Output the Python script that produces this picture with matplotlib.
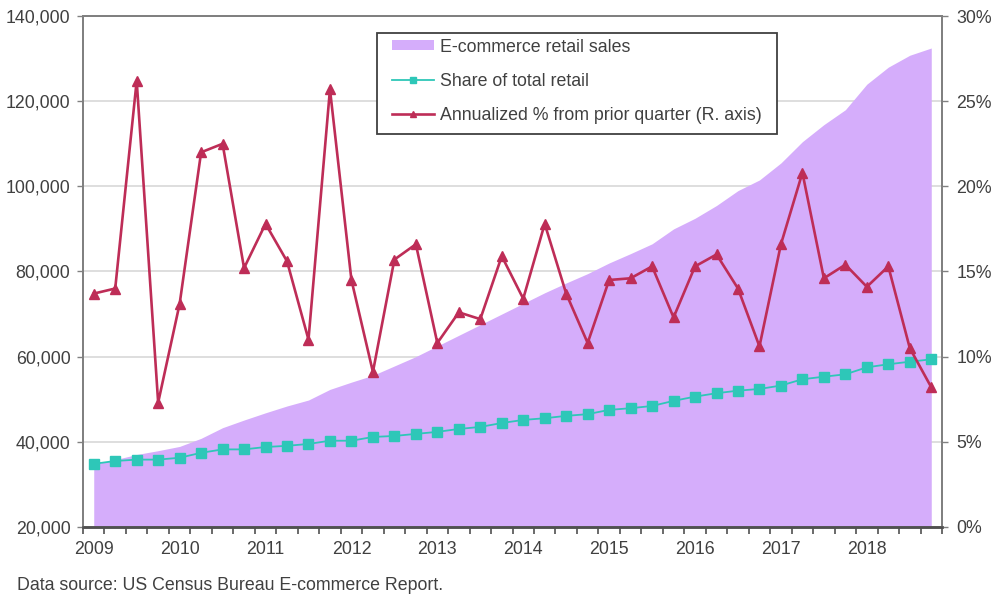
import numpy as np
import matplotlib
matplotlib.use("Agg")
import matplotlib.pyplot as plt
from matplotlib.ticker import FuncFormatter, MultipleLocator
from matplotlib.patches import Rectangle

plt.rcParams['font.family'] = ['Liberation Sans', 'DejaVu Sans']

years = ['2009', '2010', '2011', '2012', '2013', '2014', '2015', '2016', '2017', '2018']
n_quarters = 40

# E-commerce retail sales (millions $, left axis)
sales = [34700, 35800, 37000, 37900, 38900, 40800, 43300, 45100, 46800, 48400,
         49800, 52300, 54000, 55600, 57800, 60000, 62500, 65000, 67500, 70000,
         72500, 75000, 77300, 79500, 82000, 84200, 86500, 90000, 92500, 95500,
         99000, 101500, 105500, 110500, 114500, 118000, 124000, 128000, 130800, 132500]

# Share of total retail (%, right axis)
share = [3.70, 3.87, 3.95, 3.95, 4.06, 4.35, 4.55, 4.55, 4.69, 4.76,
         4.87, 5.06, 5.06, 5.28, 5.34, 5.46, 5.58, 5.75, 5.87, 6.10,
         6.28, 6.38, 6.52, 6.62, 6.87, 6.97, 7.10, 7.40, 7.65, 7.85,
         8.00, 8.10, 8.30, 8.67, 8.82, 8.96, 9.37, 9.55, 9.70, 9.84]

# Annualized % change from prior quarter (right axis)
growth = [13.7, 14.0, 26.2, 7.3, 13.1, 22.0, 22.5, 15.2, 17.8, 15.6,
          11.0, 25.7, 14.5, 9.1, 15.7, 16.6, 10.8, 12.6, 12.2, 15.9,
          13.4, 17.8, 13.7, 10.8, 14.5, 14.6, 15.3, 12.3, 15.3, 16.0,
          14.0, 10.6, 16.6, 20.8, 14.6, 15.4, 14.1, 15.3, 10.5, 8.2]

labels = ['E-commerce retail sales', 'Share of total retail',
          'Annualized % from prior quarter (R. axis)']

area_color = '#D5ADFB'
teal = '#2EC7B8'
red = '#BE2D57'
text_color = '#404040'
spine_color = '#808080'
fs = 12.8

fig = plt.figure(figsize=(10, 5.96), dpi=100)
ax = fig.add_axes([0.083, 0.116, 0.859, 0.857])
ax2 = ax.twinx()

x = np.arange(n_quarters)

area = ax.fill_between(x, 0, sales, color=area_color, linewidth=0, label=labels[0])
ax.set_ylim(20000, 140000)
ax.set_xlim(-0.5, n_quarters - 0.5)
ax.yaxis.set_major_locator(MultipleLocator(20000))
ax.yaxis.set_major_formatter(FuncFormatter(lambda v, p: f'{int(v):,}'))
ax.set_axisbelow(True)
ax.grid(axis='y', color='#D8D8D8', linewidth=1.2)
ax.grid(axis='x', visible=False)

l1, = ax2.plot(x, share, color=teal, linewidth=1.3, marker='s', markersize=7.3,
               markeredgecolor=teal, label=labels[1])
l2, = ax2.plot(x, growth, color=red, linewidth=1.9, marker='^', markersize=7.5,
               markeredgecolor=red, label=labels[2])
ax2.set_ylim(0, 30)
ax2.yaxis.set_major_locator(MultipleLocator(5))
ax2.yaxis.set_major_formatter(FuncFormatter(lambda v, p: f'{int(round(v))}%'))

# x ticks at category boundaries, year labels under first quarter
ax.set_xticks(np.arange(-0.5, n_quarters, 1))
ax.set_xticklabels([])
ax.set_xticks(np.arange(0, n_quarters, 4), minor=True)
ax.set_xticklabels(years, minor=True)
ax.tick_params(axis='x', which='major', direction='out', length=5, width=1.2, color='#505050')
ax.tick_params(axis='x', which='minor', length=0, pad=10.5, labelsize=fs, labelcolor=text_color)
ax.tick_params(axis='y', direction='out', length=4, width=1, color=spine_color,
               pad=5, labelsize=fs, labelcolor=text_color)
ax2.tick_params(axis='y', direction='out', length=4, width=1, color=spine_color,
                pad=6.5, labelsize=fs, labelcolor=text_color)

for a in (ax, ax2):
    for s in ('left', 'right', 'top'):
        a.spines[s].set_color(spine_color)
        a.spines[s].set_linewidth(1.3)
    a.spines['bottom'].set_color('#505050')
    a.spines['bottom'].set_linewidth(1.8)

# legend frame drawn as a box, legend entries placed inside it
frame = Rectangle((0.342, 0.769), 0.466, 0.198, transform=ax2.transAxes,
                  facecolor='white', edgecolor='#404040', linewidth=1.3, zorder=4)
ax2.add_patch(frame)
leg = ax2.legend([area, l1, l2], labels, loc='upper left',
                 bbox_to_anchor=(0.3597, 0.956), frameon=False,
                 fontsize=fs, handlelength=2.36, handleheight=0.45, handletextpad=0.34,
                 labelspacing=0.96, borderpad=0, borderaxespad=0,
                 markerscale=0.55, labelcolor=text_color)
leg.set_zorder(5)

fig.text(0.017, 1 - 586 / 596, 'Data source: US Census Bureau E-commerce Report.',
         fontsize=fs, color=text_color, va='center', ha='left')

fig.savefig('out.png', dpi=100)
